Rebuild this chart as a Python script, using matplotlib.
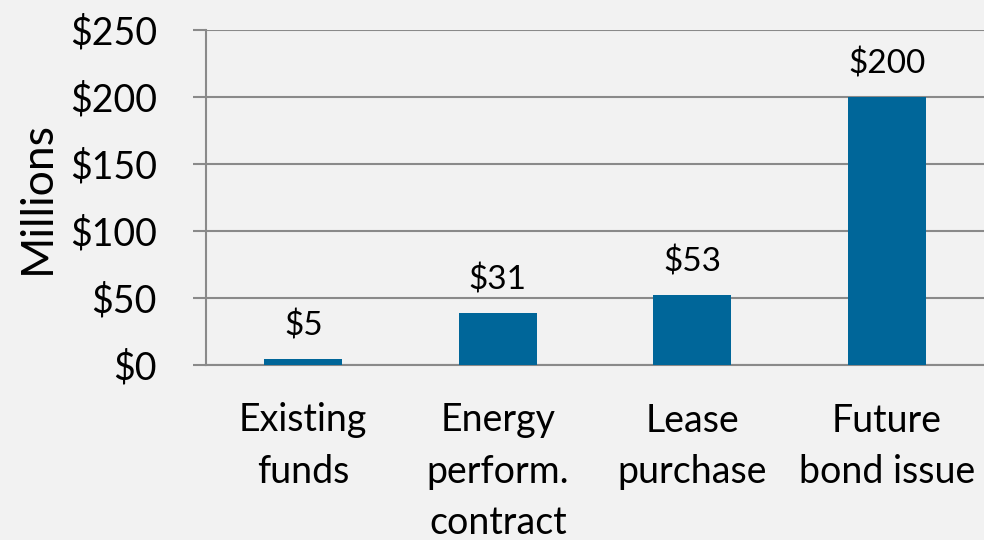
import matplotlib
matplotlib.use("Agg")
import matplotlib.pyplot as plt

categories = ["Existing\nfunds", "Energy\nperform.\ncontract", "Lease\npurchase", "Future\nbond issue"]
values = [4.5, 39, 52, 200]
value_labels = ["$5", "$31", "$53", "$200"]
yticks = [0, 50, 100, 150, 200, 250]
ytick_labels = ["$0", "$50", "$100", "$150", "$200", "$250"]
y_title = "Millions"

plt.rcParams['font.family'] = ['Lato', 'DejaVu Sans']

BG = "#f2f2f2"
GRID = "#8a8a8a"
BAR = "#006699"
FS = 27

fig = plt.figure(figsize=(9.84, 5.40), dpi=100, facecolor=BG)
ax = fig.add_axes([206/984, 1-365/540, 1-206/984, (365-30)/540], facecolor=BG)

x = list(range(len(categories)))
ax.bar(x, values, width=0.4, color=BAR, zorder=3)
ax.set_xlim(-0.5, len(categories) - 0.5)
ax.set_ylim(0, 250)

ax.set_yticks(yticks)
ax.set_yticklabels(ytick_labels, fontsize=FS)
ax.set_xticks(x)
ax.set_xticklabels(categories, fontsize=FS, linespacing=1.52)

ax.tick_params(axis='y', length=9.4, width=1.5, color=GRID, pad=26)
ax.tick_params(axis='x', length=0, pad=27)

ax.yaxis.grid(True, color=GRID, linewidth=1.5, zorder=0)
ax.set_axisbelow(True)
for s in ['top', 'right']:
    ax.spines[s].set_visible(False)
for s in ['left', 'bottom']:
    ax.spines[s].set_color(GRID)
    ax.spines[s].set_linewidth(1.5)

for xi, v, lab in zip(x, values, value_labels):
    ax.annotate(lab, (xi, v), xytext=(0, 23.8), textcoords='offset points',
                ha='center', va='center', fontsize=24)

fig.text(37/984, 1-197/540, y_title, rotation=90, ha='center', va='center', fontsize=32)

fig.savefig("out.png", dpi=100, facecolor=BG)
